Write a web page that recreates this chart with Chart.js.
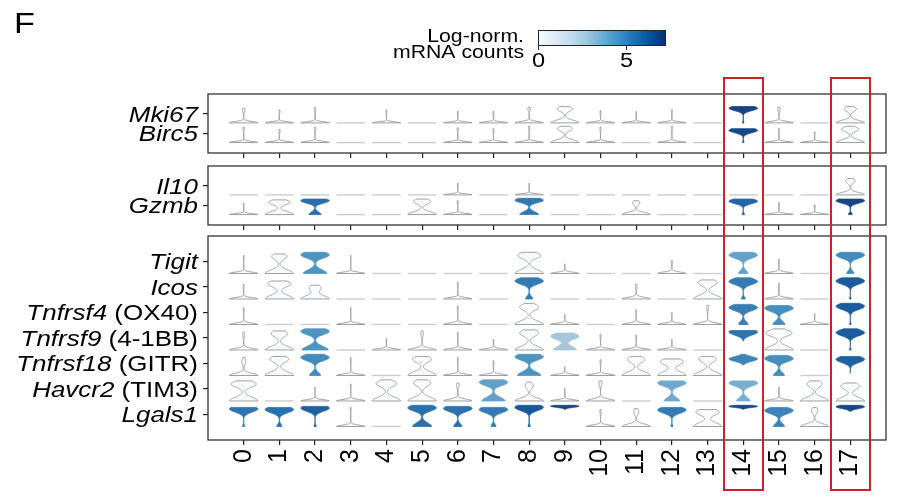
<!DOCTYPE html>
<html><head><meta charset="utf-8">
<script src="https://cdn.jsdelivr.net/npm/chart.js@4.4.1/dist/chart.umd.min.js"></script>
<style>
html,body{margin:0;padding:0;background:#fff;}
#wrap{position:relative;width:898px;height:497px;overflow:hidden;background:#fff;}
#wrap canvas{position:absolute;left:0;}
.hl{position:absolute;border:2.5px solid #c9222c;box-sizing:border-box;pointer-events:none;}
</style></head><body><div id="wrap">
<canvas id="c1"></canvas><canvas id="c2"></canvas><canvas id="c3"></canvas>
</div>
<script>
// ---------------- DATA ----------------
const clusters = ['0','1','2','3','4','5','6','7','8','9','10','11','12','13','14','15','16','17'];
const geneNames   = ['Mki67','Birc5','Il10','Gzmb','Tigit','Icos','Tnfrsf4','Tnfrsf9','Tnfrsf18','Havcr2','Lgals1'];
const geneAliases = ['','','','','','','OX40','4-1BB','GITR','TIM3',''];
const panelGenes = [[0,1],[2,3],[4,5,6,7,8,9,10]];
const highlight = [14,17];
const legendTicks = [0,5];
const colorMax = 7.27;

// median log-norm expression (violin colour), rows follow geneNames
const medianExpr = [
 [0,0,0,0,0,0,0,0,0,0,0,0,0,0,6.9,0,0,0],
 [0,0,0,0,0,0,0,0,0,0,0,0,0,0,6.8,0,0,0],
 [0,0,0,0,0,0,0,0,0,0,0,0,0,0,0,0,0,0],
 [0,0,5.6,0,0,0,0,0,5.3,0,0,0,0,0,5.9,0,0,6.8],
 [0,0,4.4,0,0,0,0,0,0,0,0,0,0,0,3.9,0,0,4.7],
 [0,0,0,0,0,0,0,0,5.2,0,0,0,0,0,5.2,0,0,6.2],
 [0,0,0,0,0,0,0,0,0,0,0,0,0,0,5.1,4.6,0,6.2],
 [0,0,4.4,0,0,0,0,0,0,2.4,0,0,0,0,5.4,0,0,6.2],
 [0,0,4.7,0,0,0,0,0,4.4,0,0,0,0,0,4.9,4.6,0,6.0],
 [0,0,0,0,0,0,0,3.9,0,0,0,0,3.6,0,3.4,0,0,0],
 [5.4,5.5,6.0,0,0,5.5,5.5,5.2,6.3,6.9,0,0,5.2,0,6.8,4.9,0,6.8]
];
// maximum of each violin (fraction of the gene's range; 0 = all cells zero)
const violinTop = [
 [0.9,0.8,0.95,0,0.8,0,0.7,0.7,0.95,1.0,0.75,0.7,0.8,0,1.0,0.95,0,1.0],
 [0.95,0.8,0.95,0,0,0,0.9,0.85,1.0,1.0,0.95,0,1.0,0,0.85,0.85,0.65,1.0],
 [0,0,0,0,0,0,0.7,0,0.7,0,0,0,0,0,0,0,0,1.0],
 [0.7,0.9,0.95,0,0,0.95,0.85,0,1.0,0,0,0.85,0,0,0.95,0.75,0.6,0.95],
 [0.85,0.92,1.0,0.85,0,0,0,0,1.0,0.45,0,0,0.62,0,1.0,0.68,0,1.0],
 [0.7,0.85,0.65,0,0,0,0.8,0,1.0,0,0,0.7,0,0.9,1.0,0.75,0,1.0],
 [0.8,0,0,0.8,0,0,0.87,0,1.0,0.48,0,0.7,0.55,0.9,0.95,0.9,0.5,1.0],
 [0.85,0.9,1.0,0,0.55,0.9,0.85,0.5,0.95,0.8,0.75,0.7,0.5,0,0.92,1.0,0,1.0],
 [0.85,0.9,1.0,0.85,0,0.9,0.85,0.7,1.0,0.41,0.75,0.9,0.78,0.9,1.0,0.95,0,0.9],
 [0.95,0,0.65,0.8,1.0,1.0,0.85,1.0,0.9,0.6,0.95,0,0.95,0,0.95,0.65,0.95,0.85],
 [0.9,0.9,0.95,0.9,0,1.0,0.95,0.9,1.0,1.0,0.8,0.85,0.9,0.8,1.0,0.9,0.9,1.0]
];
// fraction of expressing cells
const fracExpr = [
 [0.08,0.04,0.05,0,0.03,0,0.03,0.04,0.08,0.35,0.03,0.02,0.04,0,0.95,0.08,0,0.3],
 [0.04,0.04,0.05,0,0,0,0.04,0.04,0.05,0.35,0.04,0,0.05,0,0.95,0.04,0.03,0.38],
 [0,0,0,0,0,0,0.03,0,0.03,0,0,0,0,0,0,0,0,0.25],
 [0.03,0.43,0.7,0,0,0.38,0.04,0,0.6,0,0,0.2,0,0,0.92,0.03,0.03,0.88],
 [0.03,0.35,0.55,0.02,0,0,0,0,0.45,0.02,0,0,0.04,0,0.75,0.03,0,0.8],
 [0.03,0.45,0.3,0,0,0,0.03,0,0.8,0,0,0.06,0,0.4,0.88,0.03,0,0.95],
 [0.03,0,0,0.02,0,0,0.04,0,0.4,0.02,0,0.03,0.02,0.06,0.75,0.7,0.02,0.95],
 [0.06,0.37,0.52,0,0.02,0.08,0.03,0.02,0.4,0.55,0.03,0.03,0.02,0,1.0,0.48,0,0.95],
 [0.12,0.4,0.72,0.03,0,0.4,0.03,0.03,0.55,0.02,0.03,0.38,0.45,0.38,1.0,0.72,0,1.0],
 [0.47,0,0.02,0.03,0.42,0.38,0.08,0.55,0.22,0.02,0.1,0,0.65,0,0.68,0.03,0.35,0.4],
 [0.93,0.85,0.93,0.03,0,0.6,0.78,0.85,0.93,1.0,0.04,0.15,0.93,0.45,1.0,0.72,0.18,1.0]
];
// location of the expressing mode (fraction of the gene's range)
const modeExpr = [
 [0.8,0.72,0.87,0,0.72,0,0.62,0.62,0.87,0.85,0.67,0.62,0.72,0,0.9,0.85,0,0.85],
 [0.87,0.72,0.87,0,0,0,0.82,0.77,0.92,0.85,0.87,0,0.92,0,0.75,0.77,0.57,0.82],
 [0,0,0,0,0,0,0.62,0,0.62,0,0,0,0,0,0,0,0,0.85],
 [0.62,0.75,0.85,0,0,0.8,0.77,0,0.88,0,0,0.72,0,0,0.82,0.67,0.52,0.85],
 [0.77,0.8,0.88,0.77,0,0,0,0,0.85,0.37,0,0,0.56,0,0.87,0.6,0,0.87],
 [0.62,0.72,0.52,0,0,0,0.72,0,0.85,0,0,0.6,0,0.77,0.83,0.67,0,0.85],
 [0.72,0,0,0.72,0,0,0.8,0,0.82,0.4,0,0.62,0.47,0.8,0.8,0.77,0.42,0.86],
 [0.72,0.77,0.88,0,0.47,0.78,0.77,0.42,0.8,0.65,0.67,0.62,0.42,0,0.85,0.8,0,0.82],
 [0.65,0.77,0.85,0.77,0,0.77,0.77,0.62,0.88,0.33,0.67,0.75,0.65,0.77,0.78,0.8,0,0.76],
 [0.8,0,0.57,0.72,0.82,0.85,0.75,0.88,0.72,0.52,0.85,0,0.85,0,0.85,0.57,0.8,0.7],
 [0.83,0.8,0.87,0.82,0,0.88,0.85,0.8,0.9,0.96,0.72,0.7,0.78,0.68,0.95,0.75,0.75,0.93]
];
// minimum of each violin (0 unless no zero cells)
const violinLow = [
 [0,0,0,0,0,0,0,0,0,0,0,0,0,0,0,0,0,0],
 [0,0,0,0,0,0,0,0,0,0,0,0,0,0,0,0,0,0],
 [0,0,0,0,0,0,0,0,0,0,0,0,0,0,0,0,0,0],
 [0,0,0,0,0,0,0,0,0,0,0,0,0,0,0,0,0,0],
 [0,0,0,0,0,0,0,0,0,0,0,0,0,0,0,0,0,0],
 [0,0,0,0,0,0,0,0,0,0,0,0,0,0,0,0,0,0],
 [0,0,0,0,0,0,0,0,0,0,0,0,0,0,0,0,0,0],
 [0,0,0,0,0,0,0,0,0,0,0,0,0,0,0.42,0,0,0],
 [0,0,0,0,0,0,0,0,0,0,0,0,0,0,0.5,0,0,0.1],
 [0,0,0,0,0,0,0,0,0,0,0,0,0,0,0,0,0,0],
 [0,0,0,0,0,0,0,0,0,0.82,0,0,0,0,0.82,0,0,0.72]
];

// ---------------- STYLE ----------------
const FONT = "'Liberation Sans', Arial, Helvetica, sans-serif";
const SX = 1.18; // horizontal stretch of the original figure's text
const BLUES = [[247,251,255],[222,235,247],[198,219,239],[158,202,225],[107,174,214],[66,146,198],[33,113,181],[8,81,156],[8,48,107]];
function bluesRGB(t){
  t = Math.max(0, Math.min(1, t));
  const p = t*(BLUES.length-1), i = Math.min(Math.floor(p), BLUES.length-2), f = p - i;
  const a = BLUES[i], b = BLUES[i+1];
  return a.map((v,j)=>v + (b[j]-v)*f);
}
function violinColor(t){
  const c = bluesRGB(t);
  const k = t > 0.04 ? 0.12 : 0; // violins appear slightly muted
  return 'rgb(' + c.map(v => Math.round(v*(1-k) + 128*k)).join(',') + ')';
}

function drawViolin(ctx, cx, base, H, W, g, k){
  const top = violinTop[g][k], pct = fracExpr[g][k], mode = modeExpr[g][k], low = violinLow[g][k];
  const med = medianExpr[g][k];
  ctx.save();
  if (top <= 0) {
    ctx.strokeStyle = '#cdcdcd'; ctx.lineWidth = 1.4;
    ctx.beginPath(); ctx.moveTo(cx - W/2, base); ctx.lineTo(cx + W/2, base); ctx.stroke();
    ctx.restore(); return;
  }
  const hz = 0.05 + 0.5*pct*(1-pct);
  const s = low > 0 ? Math.min(0.15, (mode - low)/2.5) : 0.15;
  const dens = v => (low > 0 ? 0 : (1-pct)*Math.exp(-0.5*(v/hz)*(v/hz))) + pct*Math.exp(-0.5*((v-mode)/s)*((v-mode)/s));
  const N = 90, vs = [], ds = [];
  let dmax = 0;
  for (let i=0;i<=N;i++){ const v = low + (top-low)*i/N; const d = dens(v); vs.push(v); ds.push(d); if (d>dmax) dmax=d; }
  ctx.beginPath();
  for (let i=0;i<=N;i++){ const w = ds[i]/dmax*W/2; const y = base - vs[i]*H; if(i===0) ctx.moveTo(cx-w,y); else ctx.lineTo(cx-w,y); }
  for (let i=N;i>=0;i--){ const w = ds[i]/dmax*W/2; const y = base - vs[i]*H; ctx.lineTo(cx+w,y); }
  ctx.closePath();
  const fill = violinColor(med/colorMax);
  ctx.fillStyle = fill; ctx.fill();
  ctx.lineJoin = 'round';
  if (med < 0.3) { ctx.strokeStyle = '#959595'; ctx.lineWidth = 0.9; }
  else { ctx.strokeStyle = fill; ctx.lineWidth = 0.8; }
  ctx.stroke();
  ctx.restore();
}

function stretchedText(ctx, txt, x, y, font, align){
  ctx.save(); ctx.translate(x, y); ctx.scale(SX, 1);
  ctx.font = font; ctx.textAlign = align; ctx.textBaseline = 'alphabetic';
  ctx.fillText(txt, 0, 0); ctx.restore();
}

const violinPlugin = {
  id: 'violins',
  afterDatasetsDraw(chart){
    const ctx = chart.ctx, xs = chart.scales.x, ys = chart.scales.y;
    const colW = Math.abs(xs.getPixelForValue(1) - xs.getPixelForValue(0));
    const rowH = Math.abs(ys.getPixelForValue(1) - ys.getPixelForValue(0));
    const meta = chart.getDatasetMeta(0);
    const pts = chart.data.datasets[0].data;
    meta.data.forEach((el, i) => {
      const d = pts[i];
      drawViolin(ctx, el.x, el.y + 0.47*rowH, 0.83*rowH, 0.8*colW, d.g, d.k);
    });
  },
  afterDraw(chart, args, opts){
    const ctx = chart.ctx, a = chart.chartArea, ys = chart.scales.y;
    ctx.save();
    ctx.strokeStyle = '#333'; ctx.lineWidth = 1.3;
    ctx.strokeRect(a.left, a.top, a.right - a.left, a.bottom - a.top);
    // gene labels: italic gene symbol + upright alias
    ctx.fillStyle = '#000';
    const fs = 22;
    opts.genes.forEach((g, r) => {
      const y = ys.getPixelForValue(r) + 0.36*fs;
      const xr = a.left - 10;
      ctx.save(); ctx.translate(xr, y); ctx.scale(SX, 1);
      ctx.textAlign = 'right'; ctx.textBaseline = 'alphabetic';
      let off = 0;
      if (geneAliases[g]) {
        const t = ' (' + geneAliases[g] + ')';
        ctx.font = fs + 'px ' + FONT;
        ctx.fillText(t, 0, 0);
        off = ctx.measureText(t).width;
      }
      ctx.font = 'italic ' + fs + 'px ' + FONT;
      ctx.fillText(geneNames[g], -off, 0);
      ctx.restore();
    });
    if (opts.legend) {
      ctx.fillStyle = '#000';
      stretchedText(ctx, 'F', 14, 33, '29px ' + FONT, 'left');
      const bx = 538, by = 30, bw = 128, bh = 16;
      const grad = ctx.createLinearGradient(bx, 0, bx + bw, 0);
      BLUES.forEach((c, i) => grad.addColorStop(i/(BLUES.length-1), 'rgb(' + c.join(',') + ')'));
      ctx.fillStyle = grad; ctx.fillRect(bx, by, bw, bh);
      ctx.strokeStyle = '#222'; ctx.lineWidth = 1; ctx.strokeRect(bx + 0.5, by + 0.5, bw - 1, bh - 1);
      ctx.fillStyle = '#000';
      legendTicks.forEach(v => {
        const x = bx + v/colorMax*bw;
        ctx.beginPath(); ctx.moveTo(x + 0.5, by + bh); ctx.lineTo(x + 0.5, by + bh + 4); ctx.stroke();
        stretchedText(ctx, String(v), x + 0.5, 67, '20px ' + FONT, 'center');
      });
      stretchedText(ctx, 'Log-norm.', 524, 42, '18px ' + FONT, 'right');
      stretchedText(ctx, 'mRNA counts', 524, 58, '18px ' + FONT, 'right');
    }
    ctx.restore();
  }
};

Chart.defaults.font.family = FONT;

function makePanel(id, top, height, genes, padTop, xAxisH, showX, legend){
  const canvas = document.getElementById(id);
  canvas.width = 898; canvas.height = height; canvas.style.top = top + 'px';
  const pts = [];
  genes.forEach((g, r) => clusters.forEach((c, k) => pts.push({x: k, y: r, g: g, k: k})));
  return new Chart(canvas, {
    type: 'scatter',
    data: {datasets: [{data: pts, pointRadius: 0, pointHoverRadius: 0}]},
    options: {
      responsive: false, animation: false, devicePixelRatio: 1, events: [],
      layout: {padding: {left: 0, right: 12, top: padTop, bottom: 0}},
      plugins: {legend: {display: false}, tooltip: {enabled: false}, violins: {genes: genes, legend: legend}},
      scales: {
        x: {
          type: 'linear', min: -1, max: clusters.length,
          afterBuildTicks: s => { s.ticks = clusters.map((c, i) => ({value: i})); },
          ticks: {display: showX, autoSkip: false, minRotation: 90, maxRotation: 90, padding: 4,
                  color: '#000', font: {size: 25, family: FONT}, callback: v => clusters[v]},
          grid: {drawOnChartArea: false, drawTicks: true, tickLength: 5, color: '#222', lineWidth: 1.2},
          border: {display: false},
          afterFit: s => { s.height = xAxisH; }
        },
        y: {
          type: 'linear', reverse: true, min: -1, max: genes.length,
          afterBuildTicks: s => { s.ticks = genes.map((g, i) => ({value: i})); },
          ticks: {display: false},
          grid: {drawOnChartArea: false, drawTicks: true, tickLength: 5, color: '#222', lineWidth: 1.2},
          border: {display: false},
          afterFit: s => { s.width = 208; }
        }
      }
    },
    plugins: [violinPlugin]
  });
}

const ch1 = makePanel('c1', 0, 160, panelGenes[0], 94, 7, false, true);
const ch2 = makePanel('c2', 160, 72, panelGenes[1], 6, 7, false, false);
const ch3 = makePanel('c3', 232, 265, panelGenes[2], 4, 57, true, false);

// highlight boxes around selected clusters (positioned through the x scale)
const wrap = document.getElementById('wrap');
highlight.forEach(k => {
  const px = ch3.scales.x.getPixelForValue(k);
  const d = document.createElement('div');
  d.className = 'hl';
  d.style.left = (px - 20.5) + 'px'; d.style.width = '41px';
  d.style.top = '77px'; d.style.height = '414px';
  wrap.appendChild(d);
});
</script>
</body></html>
